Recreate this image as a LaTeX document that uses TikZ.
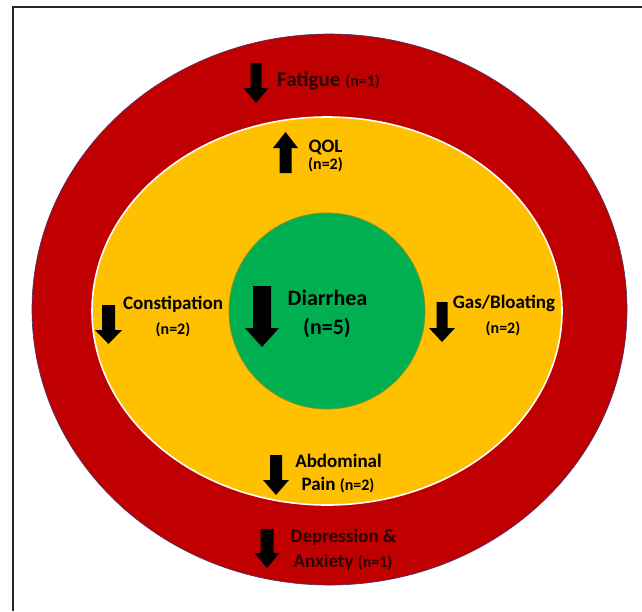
\documentclass[tikz,border=0pt]{standalone}
\usepackage{fontspec}
\setmainfont{Carlito}
\definecolor{ringred}{RGB}{192,0,0}
\definecolor{midyellow}{RGB}{255,192,0}
\definecolor{coregreen}{RGB}{0,176,80}
\definecolor{redtext}{RGB}{40,4,4}
\definecolor{greenline}{RGB}{120,150,40}
\definecolor{redline}{RGB}{70,50,110}
\newcommand\blockarrow[6]{%
  \fill[black] ({#1-#4},#2) -- ({#1+#4},#2) -- ({#1+#4},#6) -- ({#1+#5},#6) -- (#1,#3) -- ({#1-#5},#6) -- ({#1-#4},#6) -- cycle;}
\tikzset{
  lbl/.style={inner sep=0pt, anchor=base, font=\bfseries\fontsize{19}{22}\selectfont},
  nsmall/.style={font=\bfseries\fontsize{16}{19}\selectfont},
  big/.style={inner sep=0pt, anchor=base, font=\bfseries\fontsize{22}{26}\selectfont},
}
\begin{document}
\begin{tikzpicture}[x=1pt,y=-1pt]
\useasboundingbox (0,0) rectangle (642,611);
\fill[white] (0,0) rectangle (642,611);
% frame
\draw[line width=2pt, black!85] (642,7) -- (13,7) -- (13,611);
% rings
\fill[ringred, draw=redline, line width=0.6pt] (329.5,309.5) ellipse [x radius=297.5, y radius=275.5];
\fill[midyellow, draw=white, line width=1.6pt] (327,311) ellipse [x radius=235, y radius=194];
\fill[coregreen, draw=greenline, line width=0.8pt] (327,311) circle [radius=98];
% arrows
\blockarrow{256}{63}{103}{5.5}{12.5}{88}
\blockarrow{285.5}{173}{132}{6}{12.5}{148}
\blockarrow{108.5}{305}{344}{6.5}{13.5}{330}
\blockarrow{262}{286}{347}{9}{17}{328}
\blockarrow{442}{302}{342}{5.5}{13}{328}
\blockarrow{276}{455}{495}{6}{13}{480}
\blockarrow{267}{529}{568}{6.5}{12.5}{553}
% labels
\node[lbl, anchor=base west, text=redtext, font=\bfseries\fontsize{21}{24}\selectfont] (fat) at (277,86) {Fatigue {\fontsize{16}{19}\selectfont(n=1)}};
\node[lbl] (qol) at (325.5,152) {QOL};
\node[lbl, nsmall] (qoln) at (325.5,169) {(n=2)};
\node[lbl] (con) at (173,309) {Constipation};
\node[lbl, nsmall] (conn) at (173,334) {(n=2)};
\node[lbl] (gas) at (504,308) {Gas/Bloating};
\node[lbl, nsmall] (gasn) at (503,333) {(n=2)};
\node[big] (dia) at (327.5,305) {Diarrhea};
\node[big] (dian) at (327,334) {(n=5)};
\node[lbl] (abd) at (338.5,467) {Abdominal};
\node[lbl] (pain) at (338,490) {Pain {\fontsize{16}{19}\selectfont(n=2)}};
\node[lbl, text=redtext] (dep) at (343.5,542) {Depression \&};
\node[lbl, text=redtext] (anx) at (343,567) {Anxiety {\fontsize{16}{19}\selectfont(n=1)}};
\end{tikzpicture}
\end{document}
